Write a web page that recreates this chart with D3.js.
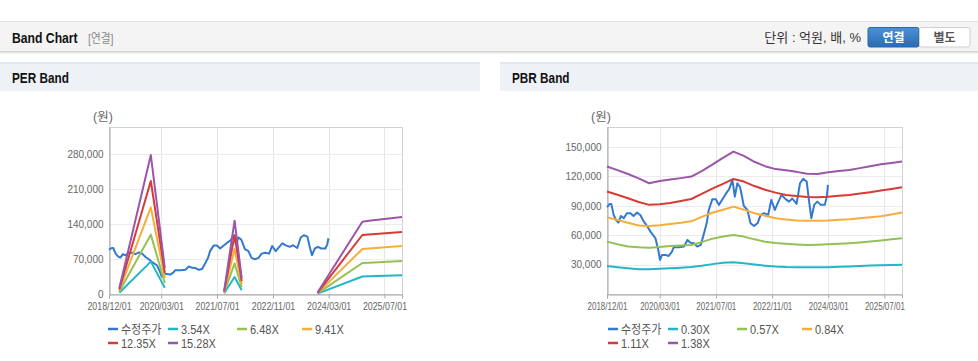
<!DOCTYPE html>
<html>
<head>
<meta charset="utf-8">
<script src="https://cdn.jsdelivr.net/npm/d3@7"></script>
<style>
body { margin: 0; background: #fff; }
svg text { font-family: "Liberation Sans", "Noto Sans CJK KR", sans-serif; }
</style>
</head>
<body>
<script>
// ---- data ----
var xTickLabels = ['2018/12/01', '2020/03/01', '2021/07/01', '2022/11/01', '2024/03/01', '2025/07/01'];
var perYTicks = [0, 70000, 140000, 210000, 280000];
var pbrYTicks = [30000, 60000, 90000, 120000, 150000];

// 수정주가 (adjusted price)
var priceDates = ['2018/12/01','2018/12/25','2019/01/07','2019/01/28','2019/02/20','2019/03/10','2019/04/01','2019/04/25','2019/05/22','2019/06/22',
  '2019/07/19','2019/08/19','2019/09/16','2019/10/16','2019/11/13','2019/12/13','2020/01/25','2020/02/18','2020/03/05','2020/03/22',
  '2020/04/19','2020/05/19','2020/06/16','2020/07/01','2020/08/16','2020/09/28','2020/10/28','2020/11/25','2020/12/25','2021/01/22',
  '2021/02/20','2021/03/13','2021/04/13','2021/05/01','2021/06/01','2021/07/01','2021/07/28','2021/08/28','2021/09/25','2021/10/25',
  '2021/11/22','2021/12/13','2022/01/04','2022/01/28','2022/03/01','2022/04/01','2022/04/28','2022/05/28','2022/06/28','2022/07/25',
  '2022/08/25','2022/09/28','2022/10/25','2022/11/25','2022/12/22','2023/01/22','2023/02/26','2023/03/28','2023/04/25','2023/06/01',
  '2023/07/01','2023/07/28','2023/08/28','2023/09/16','2023/10/07','2023/11/01','2023/11/28','2023/12/28','2024/02/01','2024/02/18','2024/02/28'];
var priceValues = [88600,92000,92000,80700,74900,72900,79700,77300,82500,82500,
  79700,83100,80700,73900,69500,63700,56900,45000,34700,39900,
  39900,38800,43200,47700,47700,48400,55200,52400,51800,48400,
  50100,58600,72200,85800,96800,96800,91000,96800,102200,107000,
  116500,99400,113100,109000,89900,85800,72200,69500,72200,80700,
  82500,80700,96100,85800,93300,101200,96800,94300,97500,92000,
  113100,117500,114800,96100,77400,91000,94300,91000,91000,99400,111400];

// PER band (null = no data)
var perBandDates = ['2019/03/01','2019/12/01','2020/04/01','2020/04/02','2021/09/01','2021/12/01','2022/02/01','2022/02/02','2023/11/25','2024/12/20','2025/02/15','2025/12/01'];
var per354  = [2600,  64700, 12500, null, 1400, 34000,  7400, null,  700, 35000,  35300,  37500];
var per648  = [4800, 118700, 22000, null, 2600, 61300, 13600, null, 1300, 62000,  62600,  66000];
var per941  = [7000, 173300, 32000, null, 3800, 90000, 19800, null, 1800, 90000,  90800,  96000];
var per1235 = [9100, 226000, 42000, null, 4900, 118000, 26000, null, 2400, 118000, 119000, 124000];
var per1528 = [11300, 278000, 52000, null, 6100, 146700, 32000, null, 3000, 144600, 146600, 154000];

// PBR band, quarterly
var pbrBandDates = ['2018/12/01','2019/03/01','2019/06/01','2019/09/01','2019/12/01','2020/03/01','2020/06/01','2020/09/01','2020/12/01',
  '2021/03/01','2021/06/01','2021/09/01','2021/12/01','2022/03/01','2022/06/01','2022/09/01','2022/12/01','2023/03/01','2023/06/01',
  '2023/09/01','2023/12/01','2024/03/01','2024/06/01','2024/09/01','2024/12/01','2025/03/01','2025/06/01','2025/09/01','2025/12/01'];
var pbr030 = [28600,27300,26200,25300,25300,25700,26200,26800,27500,28800,30500,31800,32400,31300,30000,28900,28000,27500,27300,27300,27300,27300,27700,28200,28700,29100,29400,29700,29900];
var pbr057 = [53500,50800,48600,47700,47300,48100,49000,49500,50000,53000,56500,58600,60300,58600,55800,53300,52000,51300,50600,50100,50300,50700,51200,51900,52700,53600,54600,55800,56900];
var pbr084 = [78400,75500,72800,70000,69500,70300,71500,72700,74200,78800,83000,86000,89200,86100,82500,79900,77300,76000,75000,74900,74900,75100,75700,76200,77300,78300,79400,81200,83100];
var pbr111 = [104600,101300,97800,93900,91000,91700,93000,94900,97000,102300,107500,112500,117500,114800,110200,106500,103500,101000,100000,99100,98800,99200,100200,101000,102500,104000,105600,107300,109000];
var pbr138 = [130100,126500,122500,118000,113100,115300,116800,118300,119900,125500,132000,139000,145400,141000,135000,130500,127500,126300,124700,122700,122600,124300,125500,126500,128500,130500,132400,133800,135200];

var perLegend = ['수정주가', '3.54X', '6.48X', '9.41X', '12.35X', '15.28X'];
var pbrLegend = ['수정주가', '0.30X', '0.57X', '0.84X', '1.11X', '1.38X'];

// ---- styles ----
var colors = ['#3479d0', '#22b6c8', '#93c156', '#f6ad3e', '#d43c35', '#9b55a9'];
var parse = d3.timeParse('%Y/%m/%d');

var svg = d3.select('body').append('svg').attr('width', 978).attr('height', 361);

// the source text looks a bit narrow, squeeze it horizontally
function squeeze(sel, k) {
  sel.each(function () {
    var w = this.getComputedTextLength();
    d3.select(this).attr('textLength', w * k).attr('lengthAdjust', 'spacingAndGlyphs');
  });
}

// ---- top header ----
svg.append('rect').attr('x', 0).attr('y', 21).attr('width', 978).attr('height', 31).attr('fill', '#f4f4f4');
svg.append('line').attr('x1', 0).attr('x2', 978).attr('y1', 21.5).attr('y2', 21.5).attr('stroke', '#dedede');
svg.append('line').attr('x1', 0).attr('x2', 978).attr('y1', 51.5).attr('y2', 51.5).attr('stroke', '#d4d4d4');
svg.append('line').attr('x1', 0).attr('x2', 978).attr('y1', 52.5).attr('y2', 52.5).attr('stroke', '#e6e6e6');
svg.append('line').attr('x1', 0).attr('x2', 978).attr('y1', 53.5).attr('y2', 53.5).attr('stroke', '#f3f3f3');

svg.append('text').attr('x', 12).attr('y', 43).attr('font-size', 14).attr('font-weight', 'bold')
  .attr('fill', '#111').text('Band Chart').call(squeeze, 0.87);
svg.append('text').attr('x', 88).attr('y', 43).attr('font-size', 12.5)
  .attr('fill', '#8a8a8a').text('[연결]').call(squeeze, 0.85);
svg.append('text').attr('x', 861).attr('y', 42).attr('font-size', 13).attr('text-anchor', 'end')
  .attr('fill', '#333').text('단위 : 억원, 배, %');

var grad = svg.append('defs').append('linearGradient').attr('id', 'btn').attr('x1', 0).attr('x2', 0).attr('y1', 0).attr('y2', 1);
grad.append('stop').attr('offset', '0%').attr('stop-color', '#4c91d6');
grad.append('stop').attr('offset', '100%').attr('stop-color', '#2a6bb2');
svg.append('rect').attr('x', 868).attr('y', 27.5).attr('width', 51).attr('height', 19.5).attr('rx', 2)
  .attr('fill', 'url(#btn)').attr('stroke', '#2a66a8');
svg.append('rect').attr('x', 919.5).attr('y', 27.5).attr('width', 50.5).attr('height', 19.5).attr('rx', 2)
  .attr('fill', '#fff').attr('stroke', '#cfcfcf');
svg.append('text').attr('x', 893.5).attr('y', 41.5).attr('font-size', 12).attr('font-weight', 'bold')
  .attr('text-anchor', 'middle').attr('fill', '#fff').text('연결');
svg.append('text').attr('x', 944.5).attr('y', 41.5).attr('font-size', 12).attr('font-weight', 'bold')
  .attr('text-anchor', 'middle').attr('fill', '#555').text('별도');

// ---- one band panel ----
function drawPanel(cfg) {
  var g = svg.append('g');

  g.append('rect').attr('x', cfg.px).attr('y', 62).attr('width', cfg.pw).attr('height', 29).attr('fill', '#eef1f6');
  g.append('rect').attr('x', cfg.px).attr('y', 62).attr('width', cfg.pw).attr('height', 2).attr('fill', '#e3e7ee');
  g.append('text').attr('x', cfg.px + 12).attr('y', 83).attr('font-size', 14).attr('font-weight', 'bold')
    .attr('fill', '#111').text(cfg.title).call(squeeze, 0.84);

  var x = d3.scaleTime().domain([parse('2018/12/01'), parse('2025/12/01')]).range([cfg.left, cfg.right]);
  var y = d3.scaleLinear().domain([0, cfg.yMax]).range([cfg.bottom, cfg.top]);
  var xTicks = xTickLabels.map(parse);

  // grid
  g.selectAll('line.vg').data(xTicks).enter().append('line').attr('class', 'vg')
    .attr('x1', function (d) { return Math.round(x(d)) + 0.5; })
    .attr('x2', function (d) { return Math.round(x(d)) + 0.5; })
    .attr('y1', cfg.top).attr('y2', cfg.bottom).attr('stroke', '#e6e6e6');
  g.selectAll('line.hg').data(cfg.yTicks.filter(function (v) { return v > 0; })).enter().append('line').attr('class', 'hg')
    .attr('x1', cfg.left).attr('x2', cfg.right)
    .attr('y1', function (d) { return Math.round(y(d)) + 0.5; })
    .attr('y2', function (d) { return Math.round(y(d)) + 0.5; })
    .attr('stroke', '#ececec');
  g.append('rect').attr('x', cfg.left + 0.5).attr('y', cfg.top + 0.5)
    .attr('width', cfg.right - cfg.left).attr('height', cfg.bottom - cfg.top)
    .attr('fill', 'none').attr('stroke', '#d2d2d2');

  // axes
  var xa = g.append('g').attr('transform', 'translate(0,' + (cfg.bottom + 0.5) + ')')
    .call(d3.axisBottom(x).tickValues(xTicks).tickSize(4).tickPadding(4)
      .tickFormat(function (d, i) { return xTickLabels[i]; }));
  xa.select('.domain').attr('stroke', '#a8a8a8');
  xa.selectAll('.tick line').attr('stroke', '#a8a8a8');
  xa.selectAll('text').attr('font-size', 10.5).attr('fill', '#666').attr('font-family', null)
    .call(squeeze, cfg.xSqueeze);

  var ya = g.append('g').attr('transform', 'translate(' + (cfg.left + 0.5) + ',0)')
    .call(d3.axisLeft(y).tickValues(cfg.yTicks).tickSize(0).tickPadding(6).tickFormat(d3.format(',')));
  ya.select('.domain').attr('stroke', '#a8a8a8');
  ya.selectAll('text').attr('font-size', 10.5).attr('fill', '#666').attr('font-family', null)
    .call(squeeze, 0.95);

  g.append('text').attr('x', cfg.left - 16).attr('y', 121).attr('font-size', 12.5)
    .attr('fill', '#666').text('(원)');

  // lines
  var priceLine = d3.line()
    .x(function (d, i) { return x(parse(priceDates[i])); })
    .y(function (d) { return y(d); });
  g.append('path').datum(priceValues).attr('d', priceLine)
    .attr('fill', 'none').attr('stroke', colors[0]).attr('stroke-width', 2).attr('stroke-linejoin', 'round');

  var bandLine = d3.line()
    .defined(function (d) { return d != null; })
    .x(function (d, i) { return x(parse(cfg.bandDates[i])); })
    .y(function (d) { return y(d); });
  g.selectAll('path.band').data(cfg.bands).enter().append('path').attr('class', 'band')
    .attr('d', bandLine)
    .attr('fill', 'none')
    .attr('stroke', function (d, i) { return colors[i + 1]; })
    .attr('stroke-width', 2).attr('stroke-linejoin', 'round');

  // legend
  var lg = g.selectAll('g.leg').data(cfg.legend).enter().append('g').attr('class', 'leg')
    .attr('transform', function (d, i) {
      return 'translate(' + cfg.legendX[i % 4] + ',' + (i < 4 ? 329 : 343) + ')';
    });
  lg.append('line').attr('x1', 0).attr('x2', 10).attr('y1', 0).attr('y2', 0)
    .attr('stroke', function (d, i) { return colors[i]; }).attr('stroke-width', 2.5);
  lg.append('text').attr('x', 13).attr('y', 4.5).attr('font-size', 12.5).attr('fill', '#555')
    .text(function (d) { return d; }).call(squeeze, 0.88);
}

drawPanel({
  title: 'PER Band', px: 0, pw: 480,
  left: 109, right: 402, top: 127, bottom: 294, yMax: 334000,
  yTicks: perYTicks, xSqueeze: 0.84,
  bandDates: perBandDates, bands: [per354, per648, per941, per1235, per1528],
  legend: perLegend, legendX: [108, 168, 237, 302]
});

drawPanel({
  title: 'PBR Band', px: 500, pw: 478,
  left: 607, right: 902, top: 127, bottom: 294, yMax: 170500,
  yTicks: pbrYTicks, xSqueeze: 0.76,
  bandDates: pbrBandDates, bands: [pbr030, pbr057, pbr084, pbr111, pbr138],
  legend: pbrLegend, legendX: [608, 668, 737, 802]
});
</script>
</body>
</html>
